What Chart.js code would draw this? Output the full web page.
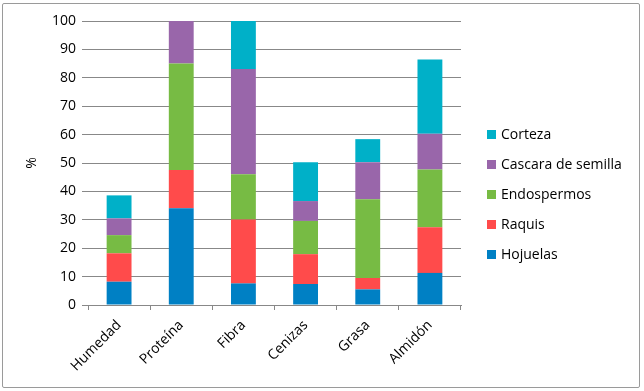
<!DOCTYPE html>
<html>
<head>
<meta charset="utf-8">
<script src="https://cdn.jsdelivr.net/npm/chart.js@4"></script>
<style>
  html, body { margin: 0; padding: 0; background: #fff; }
  #wrap { position: relative; width: 644px; height: 391px; }
  #frame { position: absolute; left: 2px; top: 3px; width: 636px; height: 383px; border: 1px solid #9a9a9a; border-radius: 2px; pointer-events: none; }
  canvas { position: absolute; left: 0; top: 0; }
</style>
</head>
<body>
<div id="wrap">
  <canvas id="c" width="644" height="391"></canvas>
  <div id="frame"></div>
</div>
<script>
const categories = ["Humedad", "Proteína", "Fibra", "Cenizas", "Grasa", "Almidón"];
const hojuelas   = [8.2, 34.1, 7.6, 7.4, 5.5, 11.3];
const raquis     = [10.0, 13.4, 22.5, 10.5, 4.0, 16.1];
const endospermos= [6.4, 37.5, 15.9, 11.7, 27.7, 20.3];
const cascara    = [5.9, 15.0, 37.1, 7.0, 13.1, 12.6];
const corteza    = [8.1, 0, 16.9, 13.7, 8.1, 26.1];
const seriesNames = ["Hojuelas", "Raquis", "Endospermos", "Cascara de semilla", "Corteza"];
const seriesColors = ["#0080C4", "#FF4B4B", "#77BB44", "#9966AA", "#00B0C8"];
const yTicks = [0, 10, 20, 30, 40, 50, 60, 70, 80, 90, 100];

const FONT = "'Open Sans', 'Noto Sans', sans-serif";
const seriesValues = [hojuelas, raquis, endospermos, cascara, corteza];

const legendPlugin = {
  id: 'customLegend',
  afterDraw(chart) {
    const ctx = chart.ctx;
    ctx.save();
    ctx.font = "14px " + FONT;
    ctx.textBaseline = 'middle';
    ctx.textAlign = 'left';
    const ds = chart.data.datasets;
    for (let i = ds.length - 1, row = 0; i >= 0; i--, row++) {
      const y = 135 + row * 30;
      ctx.fillStyle = ds[i].backgroundColor;
      ctx.fillRect(487, y - 5, 9, 9);
      ctx.fillStyle = '#000';
      ctx.fillText(ds[i].label, 501, y);
    }
    ctx.restore();
  }
};

new Chart(document.getElementById('c'), {
  type: 'bar',
  data: {
    labels: categories,
    datasets: seriesNames.map((n, i) => ({
      label: n,
      data: seriesValues[i],
      backgroundColor: seriesColors[i],
      borderWidth: 0,
      barPercentage: 0.4,
      categoryPercentage: 1.0
    }))
  },
  options: {
    responsive: false,
    animation: false,
    layout: { padding: { left: 20, top: 21, right: 183, bottom: 0 } },
    plugins: { legend: { display: false }, tooltip: { enabled: false } },
    scales: {
      x: {
        stacked: true,
        grid: { offset: true, drawOnChartArea: false, drawTicks: true, tickLength: 5, color: '#888' },
        border: { display: true, color: '#888' },
        ticks: { color: '#000', font: { family: FONT, size: 14 }, minRotation: 45, maxRotation: 45, padding: 7 },
        afterFit(s) { s.height = 86; }
      },
      y: {
        stacked: true,
        min: 0, max: 100,
        afterBuildTicks(s) { s.ticks = yTicks.map(v => ({ value: v })); },
        grid: { color: '#888', tickLength: 6, drawTicks: true },
        border: { display: false },
        ticks: { color: '#000', font: { family: FONT, size: 14 }, padding: 6 },
        title: { display: true, text: '%', color: '#000', font: { family: FONT, size: 14 }, padding: { top: 4, bottom: 0 } },
        afterFit(s) { s.width = 68; }
      }
    }
  },
  plugins: [legendPlugin]
});
</script>
</body>
</html>
